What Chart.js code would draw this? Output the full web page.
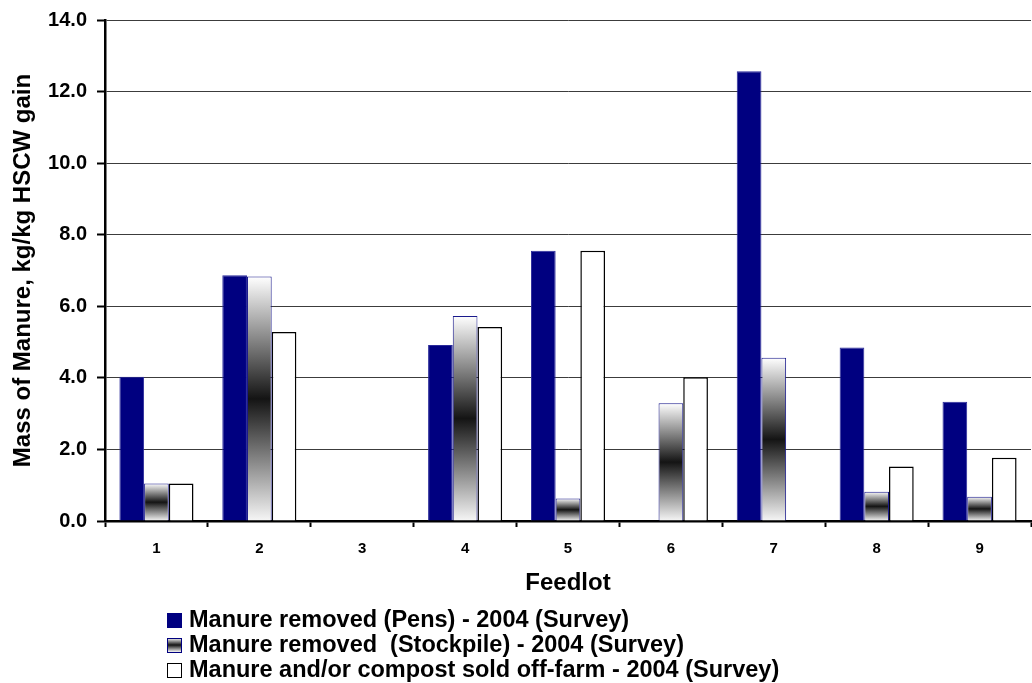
<!DOCTYPE html>
<html>
<head>
<meta charset="utf-8">
<title>Mass of Manure per Feedlot</title>
<script src="https://cdn.jsdelivr.net/npm/chart.js@4/dist/chart.umd.min.js"></script>
<style>
  html, body { margin: 0; padding: 0; background: #ffffff; }
  canvas { display: block; }
</style>
</head>
<body>
<canvas id="manureChart" width="1032" height="683"></canvas>
<script>
// Feedlot categories and the three surveyed quantities (kg/kg HSCW gain)
const feedlots = ['1', '2', '3', '4', '5', '6', '7', '8', '9'];
const pensRemoved      = [4.03, 6.87, 0, 4.92, 7.55, 0,    12.57, 4.85, 3.33];
const stockpileRemoved = [1.05, 6.83, 0, 5.73, 0.63, 3.29, 4.56,  0.82, 0.68];
const soldOffFarm      = [1.05, 5.28, 0, 5.42, 7.55, 4.02, 0,     1.52, 1.77];

const seriesNames = [
  'Manure removed (Pens) - 2004 (Survey)',
  'Manure removed  (Stockpile) - 2004 (Survey)',
  'Manure and/or compost sold off-farm - 2004 (Survey)'
];

const yMin = 0, yMax = 14, yStep = 2;

const FONT = '"Liberation Sans", Arial, Helvetica, sans-serif';
const NAVY = '#000080';

// White -> black -> white vertical shading used for the stockpile bars
function stockpileShade(ctx, top, bottom) {
  const g = ctx.createLinearGradient(0, top, 0, bottom);
  g.addColorStop(0, '#ffffff');
  g.addColorStop(0.5, '#141414');
  g.addColorStop(1, '#f6f6f6');
  return g;
}

function stockpileFill(c) {
  const chart = c.chart;
  const y = chart.scales && chart.scales.y;
  if (!y || c.type !== 'data' || typeof c.raw !== 'number') return '#808080';
  const top = y.getPixelForValue(c.raw);
  const bottom = y.getPixelForValue(0);
  if (!(bottom - top > 0.5)) return '#808080';
  return stockpileShade(chart.ctx, top, bottom);
}

// Legend drawn as three stacked rows under the axis title
const stackedLegend = {
  id: 'stackedLegend',
  afterDraw(chart) {
    const ctx = chart.ctx;
    const area = chart.chartArea;
    const left = area.left + 62;
    const firstBase = area.bottom + 106;
    const rowGap = 25;
    const box = 14;
    ctx.save();
    ctx.font = 'bold 23.5px ' + FONT;
    ctx.textBaseline = 'alphabetic';
    ctx.textAlign = 'left';
    seriesNames.forEach((name, i) => {
      const base = firstBase + i * rowGap;
      const bx = left, by = base - box;
      if (i === 0) {
        ctx.fillStyle = NAVY;
        ctx.fillRect(bx, by, box + 1, box + 1);
      } else if (i === 1) {
        ctx.fillStyle = stockpileShade(ctx, by, by + box);
        ctx.fillRect(bx, by, box, box);
        ctx.strokeStyle = NAVY;
        ctx.lineWidth = 1;
        ctx.strokeRect(bx + 0.5, by + 0.5, box, box);
      } else {
        ctx.fillStyle = '#ffffff';
        ctx.fillRect(bx, by, box, box);
        ctx.strokeStyle = '#000000';
        ctx.lineWidth = 1;
        ctx.strokeRect(bx + 0.5, by + 0.5, box, box);
      }
      ctx.fillStyle = '#000000';
      ctx.fillText(name, left + 22, base);
    });
    ctx.restore();
  }
};

new Chart(document.getElementById('manureChart'), {
  type: 'bar',
  data: {
    labels: feedlots,
    datasets: [
      {
        label: seriesNames[0],
        data: pensRemoved,
        backgroundColor: NAVY,
        borderColor: '#2a2a9a',
        borderWidth: 1,
        borderSkipped: 'start'
      },
      {
        label: seriesNames[1],
        data: stockpileRemoved,
        backgroundColor: stockpileFill,
        borderColor: '#1a1a8c',
        borderWidth: 1,
        borderSkipped: 'start'
      },
      {
        label: seriesNames[2],
        data: soldOffFarm,
        backgroundColor: '#ffffff',
        borderColor: '#000000',
        borderWidth: 1.5,
        borderSkipped: 'start'
      }
    ]
  },
  options: {
    responsive: false,
    animation: false,
    devicePixelRatio: 1,
    datasets: {
      bar: { categoryPercentage: 0.72, barPercentage: 1.0 }
    },
    layout: { padding: { left: 0, right: 1, top: 20, bottom: 85 } },
    plugins: {
      legend: { display: false },
      tooltip: { enabled: false }
    },
    scales: {
      x: {
        offset: true,
        grid: {
          offset: true,
          drawOnChartArea: false,
          drawTicks: true,
          tickLength: 6,
          tickColor: '#000000',
          tickWidth: 2
        },
        border: { display: true, color: '#000000', width: 2.5 },
        ticks: {
          color: '#000000',
          font: { family: FONT, size: 15, weight: 'bold' },
          padding: 13,
          maxRotation: 0
        },
        title: {
          display: true,
          text: 'Feedlot',
          color: '#000000',
          font: { family: FONT, size: 24, weight: 'bold' },
          padding: { top: 0, bottom: 0 }
        },
        afterFit(scale) { scale.height = 77; }
      },
      y: {
        min: yMin,
        max: yMax,
        grid: {
          color: '#3c3c3c',
          lineWidth: 1,
          tickLength: 8,
          tickColor: '#000000',
          tickWidth: 2
        },
        border: { display: true, color: '#000000', width: 2.5 },
        ticks: {
          stepSize: yStep,
          color: '#000000',
          font: { family: FONT, size: 20, weight: 'bold', lineHeight: 1.0 },
          padding: 10,
          callback: (v) => Number(v).toFixed(1)
        },
        title: {
          display: true,
          text: 'Mass of Manure, kg/kg HSCW gain',
          color: '#000000',
          font: { family: FONT, size: 24, weight: 'bold' },
          padding: { top: 9, bottom: 0 }
        },
        afterFit(scale) { scale.width = 105; }
      }
    }
  },
  plugins: [stackedLegend]
});
</script>
</body>
</html>
